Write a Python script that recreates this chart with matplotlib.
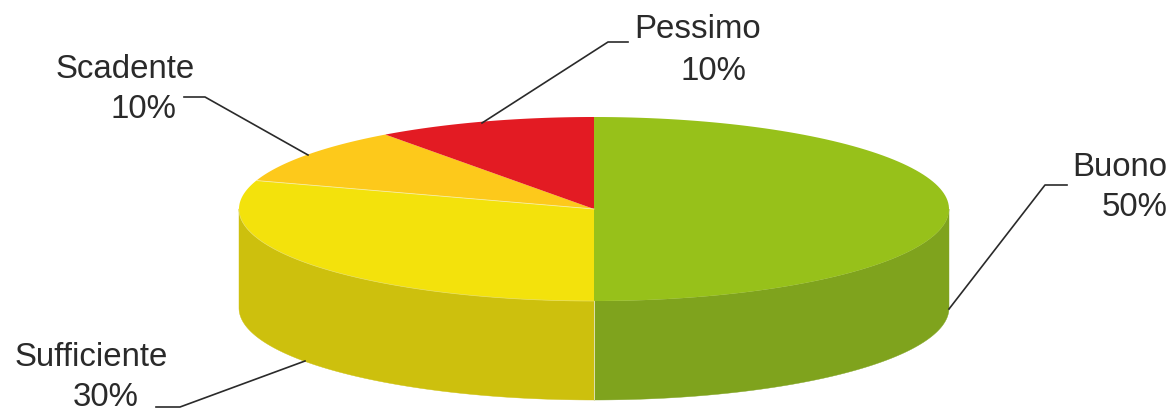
""" 3D looking pie chart drawn with polygons. """
import numpy as np
from matplotlib import pyplot as plt
from matplotlib.patches import Polygon

# Values of the chart
labels = ['Buono', 'Sufficiente', 'Scadente', 'Pessimo']
values = [50, 30, 10, 10]
top_colours = ['#97c11a', '#f3e20c', '#fdc91b', '#e31b23']
side_colours = ['#7fa31d', '#cdc00d', '#cdc00d', '#cdc00d']

# Geometry of the disc in pixels
CX, CY = 594, 209
RX, RY = 355, 92
DEPTH = 99


def rim(start, end, n=120):
    """ Points on the top ellipse, angles in degrees clockwise from the top. """
    ang = np.radians(np.linspace(start, end, n))
    return np.column_stack([CX + RX * np.sin(ang), CY - RY * np.cos(ang)])


plt.rcParams['font.family'] = ['Liberation Sans', 'DejaVu Sans']
fig = plt.figure(figsize=(11.73, 4.13), dpi=100)
ax = fig.add_axes([0, 0, 1, 1])
ax.set_xlim(0, 1173)
ax.set_ylim(413, 0)
ax.axis('off')

# Slice angles from the values
angles = np.cumsum([0] + values) / sum(values) * 360

# Outer walls, only the front half of the disc shows
for i, col in enumerate(side_colours):
    start = max(angles[i], 90)
    end = min(angles[i + 1], 270)
    if end <= start:
        continue
    edge = rim(start, end)
    wall = np.vstack([edge, (edge + [0, DEPTH])[::-1]])
    ax.add_patch(Polygon(wall, closed=True, facecolor=col, edgecolor=col, linewidth=0.3))

# Top faces
for i, col in enumerate(top_colours):
    face = np.vstack([[CX, CY], rim(angles[i], angles[i + 1])])
    ax.add_patch(Polygon(face, closed=True, facecolor=col, edgecolor='none'))

# Faint seams between the faces
for a in [angles[2]]:
    p = rim(a, a, 2)[0]
    ax.plot([CX, p[0]], [CY, p[1]], color='#f6eea0', lw=0.6)
ax.plot([CX, CX], [CY + RY, CY + RY + DEPTH], color='#dfe0b0', lw=0.7)
ax.plot(*rim(180, 270).T, color='#e8df60', lw=0.5)

# Leader lines
ax.plot([949, 1045, 1067], [309, 185, 185], color='#2a2a2a', lw=1.2)
ax.plot([482, 608, 628], [123, 42, 42], color='#2a2a2a', lw=1.2)
ax.plot([308, 205, 184], [155, 97, 97], color='#2a2a2a', lw=1.2)
ax.plot([305, 180, 156], [361, 407, 407], color='#2a2a2a', lw=1.2)

# Labels
FONT = 23.8
TXT = '#2a2a2a'
ax.text(1072, 167, labels[0], fontsize=FONT, color=TXT, va='center', ha='left')
ax.text(1168, 208, f'{values[0]}%', fontsize=FONT, color=TXT, va='center', ha='right')
ax.text(15, 358, labels[1], fontsize=FONT, color=TXT, va='center', ha='left')
ax.text(139, 398, f'{values[1]}%', fontsize=FONT, color=TXT, va='center', ha='right')
ax.text(56, 69, labels[2], fontsize=FONT, color=TXT, va='center', ha='left')
ax.text(176, 109, f'{values[2]}%', fontsize=FONT, color=TXT, va='center', ha='right')
ax.text(634, 30, labels[3], fontsize=FONT, color=TXT, va='center', ha='left')
ax.text(746, 71, f'{values[3]}%', fontsize=FONT, color=TXT, va='center', ha='right')

fig.savefig('out.png', dpi=100)
